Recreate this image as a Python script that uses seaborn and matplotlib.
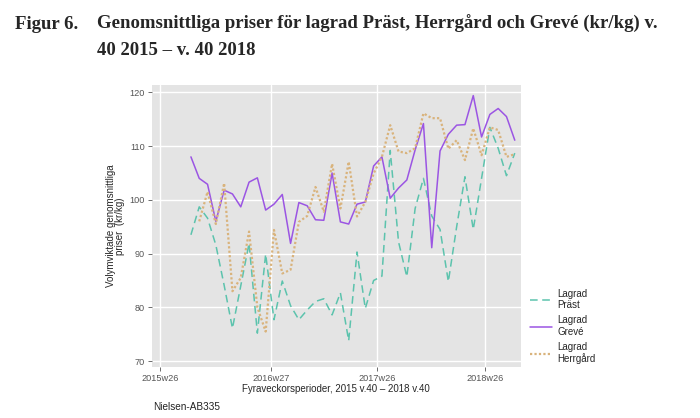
import matplotlib
matplotlib.use("Agg")
import matplotlib.pyplot as plt
import numpy as np
import pandas as pd
import seaborn as sns

# Four-week periods from 2015 v.40 to 2018 v.40, x = weeks since 2015 v.40
WEEKS = list(range(0, 157, 4))

PRAST = [93.5, 98.7, 96.6, 91.6, 84.1, 76.1, 84.0, 91.9, 75.2, 89.9,
         77.7, 84.9, 80.3, 77.7, 79.5, 81.1, 81.6, 78.6, 82.7, 73.8,
         90.3, 79.8, 85.0, 85.8, 109.2, 92.2, 85.7, 98.4, 104.0, 97.0,
         94.5, 84.8, 95.0, 104.3, 94.5, 104.0, 113.5, 109.6, 104.5, 108.7]

GREVE = [108.0, 104.0, 102.9, 96.0, 101.8, 101.1, 98.7, 103.3, 104.1, 98.1,
         99.2, 101.0, 91.9, 99.5, 98.9, 96.3, 96.2, 105.0, 95.9, 95.5,
         99.2, 99.6, 106.3, 108.0, 100.3, 102.2, 103.7, 109.3, 114.2, 91.1,
         109.1, 112.2, 113.9, 114.0, 119.4, 111.7, 115.9, 117.0, 115.5, 111.1]

HERRGARD = [np.nan, 96.0, 101.5, 95.5, 103.1, 83.0, 85.5, 94.1, 80.0, 75.5,
            94.4, 86.3, 87.0, 95.9, 97.0, 102.4, 97.8, 106.7, 98.4, 107.1,
            96.9, 99.6, 104.9, 108.0, 113.9, 109.0, 108.7, 109.6, 116.1, 115.2,
            115.2, 109.5, 111.1, 107.4, 113.3, 108.3, 113.5, 113.0, 108.0, 108.5]

SERIES = ["Lagrad\nPräst", "Lagrad\nGrevé", "Lagrad\nHerrgård"]
TICK_WEEKS = [-15, 38.5, 89.5, 141.5]
TICK_LABELS = ["2015w26", "2016w27", "2017w26", "2018w26"]

COLORS = {SERIES[0]: "#5cc3ad", SERIES[1]: "#9b55e3", SERIES[2]: "#d9b37c"}
DASHES = {SERIES[0]: (5, 3), SERIES[1]: "", SERIES[2]: (1, 1)}


def build_frame():
    frames = []
    for name, values in zip(SERIES, [PRAST, GREVE, HERRGARD]):
        frames.append(pd.DataFrame({"week": WEEKS, "price": values, "serie": name}))
    return pd.concat(frames, ignore_index=True)


def main():
    sns.set_theme(style="darkgrid", rc={
        "axes.facecolor": "#e4e4e4",
        "grid.color": "white",
        "grid.linewidth": 1.0,
    })
    plt.rcParams["font.family"] = ["Liberation Sans", "DejaVu Sans"]

    df = build_frame()

    fig = plt.figure(figsize=(7.0, 4.18), dpi=100)
    ax = fig.add_axes([0.217, 0.122, 0.527, 0.675])

    sns.lineplot(
        data=df, x="week", y="price", hue="serie", style="serie",
        palette=COLORS, dashes=DASHES, hue_order=SERIES, style_order=SERIES,
        linewidth=1.1, ax=ax, legend=False,
    )
    # dotted line a bit thicker, like the original
    ax.lines[2].set_linewidth(1.6)

    ax.set_xlim(-18.8, 158.9)
    ax.set_ylim(68.9, 121.4)
    ax.set_yticks([70, 80, 90, 100, 110, 120])
    ax.set_xticks(TICK_WEEKS)
    ax.set_xticklabels(TICK_LABELS)
    ax.grid(True, which="major")
    ax.tick_params(axis="both", labelsize=6.6, colors="#555555", length=3,
                   width=0.6, bottom=True, left=True, pad=2)
    for spine in ax.spines.values():
        spine.set_visible(False)

    ax.set_xlabel("Fyraveckorsperioder, 2015 v.40 \u2013 2018 v.40", fontsize=7,
                  labelpad=0.5)
    ax.set_ylabel("Volymviktade genomsnittliga\npriser  (kr/kg)", fontsize=7,
                  labelpad=3, linespacing=0.9)

    handles = [
        plt.Line2D([], [], color=COLORS[SERIES[0]], linestyle=(0, (5, 3)), linewidth=1.1),
        plt.Line2D([], [], color=COLORS[SERIES[1]], linewidth=1.1),
        plt.Line2D([], [], color=COLORS[SERIES[2]], linestyle=(0, (1, 1)), linewidth=1.6),
    ]
    fig.legend(handles, SERIES, loc="upper left", bbox_to_anchor=(0.745, 0.33),
               frameon=False, fontsize=7, handlelength=2.2, labelspacing=0.5,
               handletextpad=0.6)

    title_font = dict(fontsize=13.5, fontweight="bold", family="Liberation Serif")
    fig.text(0.021, 0.93, "Figur 6.", **title_font)
    fig.text(0.139, 0.93,
             "Genomsnittliga priser för lagrad Präst, Herrgård och Grevé (kr/kg) v.",
             **title_font)
    fig.text(0.139, 0.868, "40 2015 \u2013 v. 40 2018", **title_font)
    fig.text(0.219, 0.018, "Nielsen-AB335", fontsize=7.2, color="#222222")

    fig.savefig("out.png", dpi=100)
    plt.close(fig)


if __name__ == "__main__":
    main()
